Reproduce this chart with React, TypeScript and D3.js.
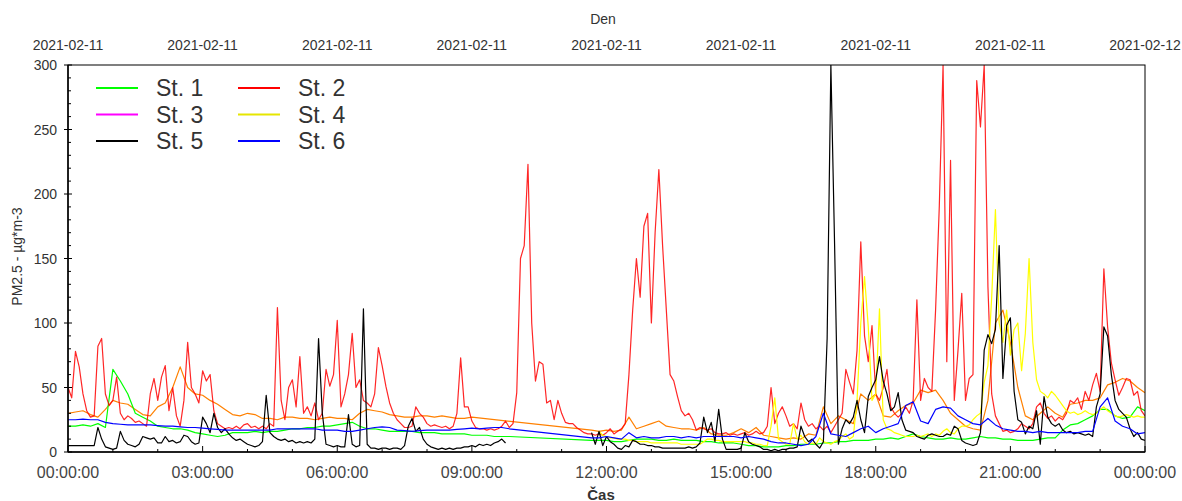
import React from "react";
import * as d3 from "d3";

// ---------- axis labels ----------
const hourTicks = [0, 3, 6, 9, 12, 15, 18, 21, 24];
const bottomLabels = ["00:00:00", "03:00:00", "06:00:00", "09:00:00", "12:00:00", "15:00:00", "18:00:00", "21:00:00", "00:00:00"];
const topLabels = ["2021-02-11", "2021-02-11", "2021-02-11", "2021-02-11", "2021-02-11", "2021-02-11", "2021-02-11", "2021-02-11", "2021-02-12"];
const yMajor = [0, 50, 100, 150, 200, 250, 300];

// ---------- series (5-minute samples, starting 00:00) ----------
const st2 = [
  50, 42, 78, 66, 45, 32, 27, 28, 82, 88,
  45, 36, 40, 58, 30, 25, 28, 26, 23, 24,
  22, 20, 45, 57, 40, 58, 67, 32, 50, 28,
  20, 40, 85, 50, 45, 38, 63, 55, 60, 32,
  22, 20, 18, 19, 18, 20, 18, 21, 22, 19,
  20, 18, 20, 18, 22, 20, 112, 40, 25, 50,
  56, 35, 74, 30, 35, 28, 38, 25, 30, 64,
  51, 60, 102, 35, 45, 60, 92, 50, 56, 40,
  38, 35, 45, 81, 67, 51, 38, 30, 25, 22,
  19, 19, 20, 35, 30, 27, 22, 20, 21, 20,
  19, 20, 18, 20, 30, 73, 35, 35, 24, 19,
  18, 18, 17, 18, 17, 18, 20, 24, 19, 22,
  46, 150, 160, 223, 100, 55, 70, 68, 38, 40,
  25, 40, 30, 23, 22, 22, 19, 17, 15, 14,
  14, 13, 14, 13, 15, 18, 14, 16, 18, 22,
  60, 110, 150, 120, 175, 185, 100, 170, 219, 160,
  110, 60, 55, 43, 32, 28, 30, 25, 17, 19,
  18, 17, 18, 15, 14, 14, 15, 13, 14, 13,
  14, 15, 13, 14, 16, 14, 15, 20, 50, 22,
  30, 35, 28, 20, 22, 18, 38, 25, 20, 22,
  18, 20, 17, 20, 15, 20, 25, 30, 64, 54,
  45, 79, 163, 90, 70, 98, 45, 40, 50, 64,
  35, 30, 27, 30, 35, 30, 40, 118, 40, 57,
  50, 47, 110, 191, 300, 70, 226, 40, 79, 123,
  40, 57, 60, 288, 252, 300, 128, 45, 28, 22,
  16, 17, 15, 16, 18, 22, 20, 18, 22, 35,
  38, 30, 26, 28, 24, 27, 25, 30, 40, 38,
  42, 33, 47, 40, 52, 61, 47, 142, 97, 69,
  56, 44, 50, 57, 56, 44, 47, 32, 28,
];

const st5 = [
  5, 5, 5, 5, 5, 5, 5, 5, 19, 10,
  4, 3, 2, 3, 16, 9, 6, 5, 4, 6,
  12, 11, 10, 11, 7, 7, 12, 8, 9, 7,
  8, 13, 12, 8, 6, 7, 27, 22, 15, 30,
  19, 15, 18, 14, 11, 9, 10, 8, 6, 5,
  4, 5, 8, 44, 15, 12, 10, 9, 10, 8,
  9, 7, 8, 7, 8, 7, 10, 88, 30, 6,
  5, 4, 5, 4, 4, 29, 6, 4, 5, 111,
  6, 3, 3, 2, 3, 3, 2, 3, 3, 2,
  5, 20, 26, 16, 19, 10, 6, 4, 3, 2,
  3, 2, 3, 2, 3, 3, 4, 4, 5, 4,
  6, 5, 6, 5, 7, 8, 10, 7, null, null,
  null, null, null, null, null, null, null, null, null, null,
  null, null, null, null, null, null, null, null, null, null,
  15, 6, 16, 5, 12, 8, 6, 3, 2, 5,
  4, 9, 8, 6, 6, 5, 5, 4, 4, 3,
  3, 3, 3, 3, 3, 3, 4, 3, 4, 7,
  27, 15, 23, 8, 33, 10, 2, 2, 2, 2,
  3, 15, 8, 6, 5, 4, 2, 2, 1, 2,
  1, 2, 2, 3, 3, 4, 20, 12, 8, 10,
  6, 3, 8, 88, 300, 160, 6, 18, 25, 22,
  27, 40, 25, 15, 43, 50, 56, 74, 55, 45,
  32, 35, 46, 25, 17, 16, 15, 12, 11, 10,
  13, 14, 13, 12, 12, 14, 13, 20, 18, 9,
  7, 6, 5, 6, 15, 79, 91, 84, 95, 160,
  57, 98, 104, 47, 25, 23, 14, 20, 18, 32,
  6, 43, 27, 22, 20, 22, 17, 15, 16, 14,
  15, 14, 13, 14, 12, 35, 45, 97, 90, 60,
  40, 33, 30, 27, 18, 12, 15, 10, 9,
];

// St. 4 starts at 11:50, 5-minute samples
const st4Start = 710;
const st4 = [
  16, 13, 12, 11, 11, 10, 10, 10,
  9, 9, 8, 8, 8, 8, 7, 7, 7, 7,
  7, 7, 7, 7, 6, 6, 6, 6, 6, 6,
  8, 10, 10, 9, 9, 8, 8, 8, 8, 8,
  8, 8, 7, 7, 6, 6, 5, 5, 20, 42,
  10, 8, 6, 6, 22, 10, 13, 8, 6, 7,
  6, 11, 8, 7, 6, 8, 9, 12, 14, 10,
  12, 40, 100, 136, 97, 40, 45, 111, 25, 18,
  17, 15, 14, 13, 12, 12, 12, 13, 12, 13,
  14, 12, 14, 13, 16, 18, 15, 14, 18, 20,
  20, 21, 25, 28, 30, 54, 67, 120, 188, 100,
  85, 110, 75, 95, 100, 63, 92, 150, 85, 56,
  47, 45, 42, 47, 44, 40, 36, 32, 30, 31,
  29, 30, 32, 30, 29, 30, 33, 35, 32, 30,
  28, 27, 28, 29, 28, 27, 28, 27, 27,
];

// ---------- series (10-minute samples, starting 00:00) ----------
const st1 = [
  20, 20, 21, 20, 22, 19, 64, 55, 45, 30,
  27, 24, 20, 19, 18, 18, 17, 15, 14, 13,
  12, 13, 15, 15, 15, 16, 15, 16, 16, 17,
  18, 18, 19, 19, 20, 20, 21, 22, 23, 20,
  18, 18, 17, 16, 16, 16, 16, 15, 15, 15,
  14, 14, 14, 14, 13, 13, 13, 12, 12, 12,
  null, null, null, null, null, null, null, null, null, null,
  9, 9, 9, 8, 8, 9, 10, 10, 10, 9,
  9, 10, 9, 9, 9, 8, 8, 7, 7, 7,
  6, 5, 5, 4, 4, 4, 5, 5, 6, 6,
  6, 7, 7, 8, 8, 9, 9, 9, 10, 10,
  11, 10, 12, 14, 12, 11, 10, 10, 11, 10,
  10, 11, 12, 11, 11, 10, 10, 9, 9, 9,
  10, 11, 11, 17, 21, 22, 25, 28, 33, 33,
  28, 26, 27, 35, 32,
];

const st6 = [
  25, 25, 25.5, 25, 25, 23, 22, 21.5, 21, 21,
  21, 21, 20.5, 20, 20, 19.5, 19, 19, 18.5, 18,
  17.5, 17, 17, 17, 17, 17, 17, 17, 18, 18,
  18, 18, 18, 18, 17, 17, 17, 16, 16, 17,
  18, 19, 19.5, 19, 17, 16.5, 16, 16.5, 17, 17,
  17, 17, 17.5, 18, 18.5, 18, 18.5, 19, 19, 18,
  null, null, null, null, null, null, null, null, null, null,
  11, 11, 12, 11, 10, 15, 11, 12, 11, 11,
  12, 12, 11, 12, 11, 12, 12, 12, 12, 12,
  11, 12, 11, 10, 8, 7, 7, 6, 5, 6,
  12, 30, 14, 13, 12, 15, 18, 20, 15, 18,
  20, 22, 36, 39, 24, 22, 33, 35, 34, 28,
  25, 22, 21, 26, 21, 18, 17, 16, 16, 15,
  16, 15, 15, 15, 15, 15, 16, 16, 35, 42,
  24, 20, 18, 14, 15,
];

const st7 = [
  30, 31, 32, 29, 27, 33, 40, 38, 37, 33,
  29, 28, 35, 38, 50, 66, 50, 45, 44, 40,
  37, 33, 29, 28, 30, 29, 26, 26, 25, 27,
  27, 26, 26, 25, 26, 27, 26, 26, 25, 30,
  33, 32, 31, 29, 28, 27, 27, 28, 28, 27,
  28, 27, 26, 26, 27, null, null, null, null, null,
  null, null, null, null, null, null, null, null, null, null,
  17, 16, 17, 16, 17, 27, 18, 20, 22, 24,
  20, 19, 18, 18, 17, 19, 14, 13, 13, 15,
  18, 15, 19, 13, 12, 11, 10, 11, 10, 14,
  13, 35, 22, 28, 25, 22, 45, 40, 45, 28,
  27, 32, 36, 38, 48, 46, 48, 40, 30, 25,
  20, 18, 17, 40, 100, 110, 85, 50, 28, 25,
  30, 35, 30, 27, 37, 38, 40, 40, 42, 52,
  54, 57, 55, 50, 46,
];

const legendItems = [
  { name: "St. 1", color: "#00ff00" },
  { name: "St. 2", color: "#ff0000" },
  { name: "St. 3", color: "#ff00ff" },
  { name: "St. 4", color: "#e6e600" },
  { name: "St. 5", color: "#000000" },
  { name: "St. 6", color: "#0000ff" },
];

type Pt = { t: number; v: number | null };

const toPts = (vals: (number | null)[], step: number, start = 0): Pt[] =>
  vals.map((v, i) => ({ t: start + i * step, v }));

export default function App() {
  const left = 68, right = 1145, top = 65, bottom = 452;
  const x = d3.scaleLinear().domain([0, 1440]).range([left, right]);
  const y = d3.scaleLinear().domain([0, 300]).range([bottom, top]);

  const gapLine = d3
    .line<Pt>()
    .defined((d) => d.v != null)
    .x((d) => x(d.t))
    .y((d) => y(d.v as number));

  const joinLine = (pts: Pt[]) => gapLine(pts.filter((d) => d.v != null)) || "";

  const series = [
    { d: joinLine(toPts(st7, 10)), color: "#ff8000" },
    { d: joinLine(toPts(st1, 10)), color: "#00ff00" },
    { d: gapLine(toPts(st2, 5)) || "", color: "#ff0000", op: 0.85 },
    { d: gapLine(toPts(st4, 5, st4Start)) || "", color: "#ffff00" },
    { d: gapLine(toPts(st5, 5)) || "", color: "#000000" },
    { d: joinLine(toPts(st6, 10)), color: "#0000ff" },
  ];

  const yMinor = d3.range(0, 301, 10).filter((v) => v % 50 !== 0);
  const xMinor = d3.range(0, 25, 1).filter((h) => h % 3 !== 0);
  const font = "'Liberation Sans', Arial, sans-serif";
  const txt = "#333";

  return (
    <svg
      width={1182}
      height={501}
      style={{ position: "absolute", left: 0, top: 0, background: "#fff" }}
      fontFamily={font}
    >
      <defs>
        <clipPath id="plot">
          <rect x={left} y={top} width={right - left} height={bottom - top} />
        </clipPath>
      </defs>
      <rect x={0} y={0} width={1182} height={501} fill="#fff" />

      <g clipPath="url(#plot)" fill="none" strokeWidth={1.2} strokeLinejoin="round">
        {series.map((s, i) => (
          <path key={i} d={s.d} stroke={s.color} strokeOpacity={s.op ?? 1} />
        ))}
      </g>

      {/* frame */}
      <rect x={left} y={top} width={right - left} height={bottom - top} fill="none" stroke="#000" strokeWidth={1} />
      <line x1={left} x2={left} y1={top} y2={bottom} stroke="#000" strokeWidth={1.5} />
      <line x1={left} x2={right} y1={bottom} y2={bottom} stroke="#000" strokeWidth={1.5} />

      {/* y ticks */}
      {yMajor.map((v) => (
        <g key={v}>
          <line x1={left - 4} x2={left + 4} y1={y(v)} y2={y(v)} stroke="#000" />
          <text x={57} y={y(v)} textAnchor="end" dominantBaseline="central" fontSize={14} fill={txt}>
            {v}
          </text>
        </g>
      ))}
      {yMinor.map((v) => (
        <line key={v} x1={left} x2={left + 3} y1={y(v)} y2={y(v)} stroke="#000" />
      ))}

      {/* x ticks */}
      {hourTicks.map((h, i) => (
        <g key={i}>
          <line x1={x(h * 60)} x2={x(h * 60)} y1={bottom} y2={bottom - 6} stroke="#000" />
          <text x={x(h * 60)} y={472} textAnchor="middle" dominantBaseline="central" fontSize={16} fill="#444">
            {bottomLabels[i]}
          </text>
          <text x={x(h * 60)} y={45} textAnchor="middle" dominantBaseline="central" fontSize={14} fill={txt}>
            {topLabels[i]}
          </text>
        </g>
      ))}
      {xMinor.map((h) => (
        <line key={h} x1={x(h * 60)} x2={x(h * 60)} y1={bottom} y2={bottom - 3} stroke="#000" />
      ))}

      {/* axis titles */}
      <text x={603} y={19} textAnchor="middle" dominantBaseline="central" fontSize={14} fill={txt}>
        Den
      </text>
      <text x={601} y={494} textAnchor="middle" dominantBaseline="central" fontSize={15} fontWeight="bold" fill={txt}>
        Čas
      </text>
      <text
        transform={`translate(17, ${(top + bottom) / 2 - 2}) rotate(-90)`}
        textAnchor="middle"
        dominantBaseline="central"
        fontSize={14}
        fill={txt}
      >
        PM2.5 - µg*m-3
      </text>

      {/* legend */}
      {legendItems.map((it, i) => {
        const col = i % 2;
        const row = Math.floor(i / 2);
        const lx = col === 0 ? 96 : 238;
        const ly = 88 + row * 26.5;
        return (
          <g key={it.name}>
            <line x1={lx} x2={lx + 42} y1={ly} y2={ly} stroke={it.color} strokeWidth={2} />
            <text x={lx + 60} y={ly} dominantBaseline="central" fontSize={23} fill={txt}>
              {it.name}
            </text>
          </g>
        );
      })}
    </svg>
  );
}
